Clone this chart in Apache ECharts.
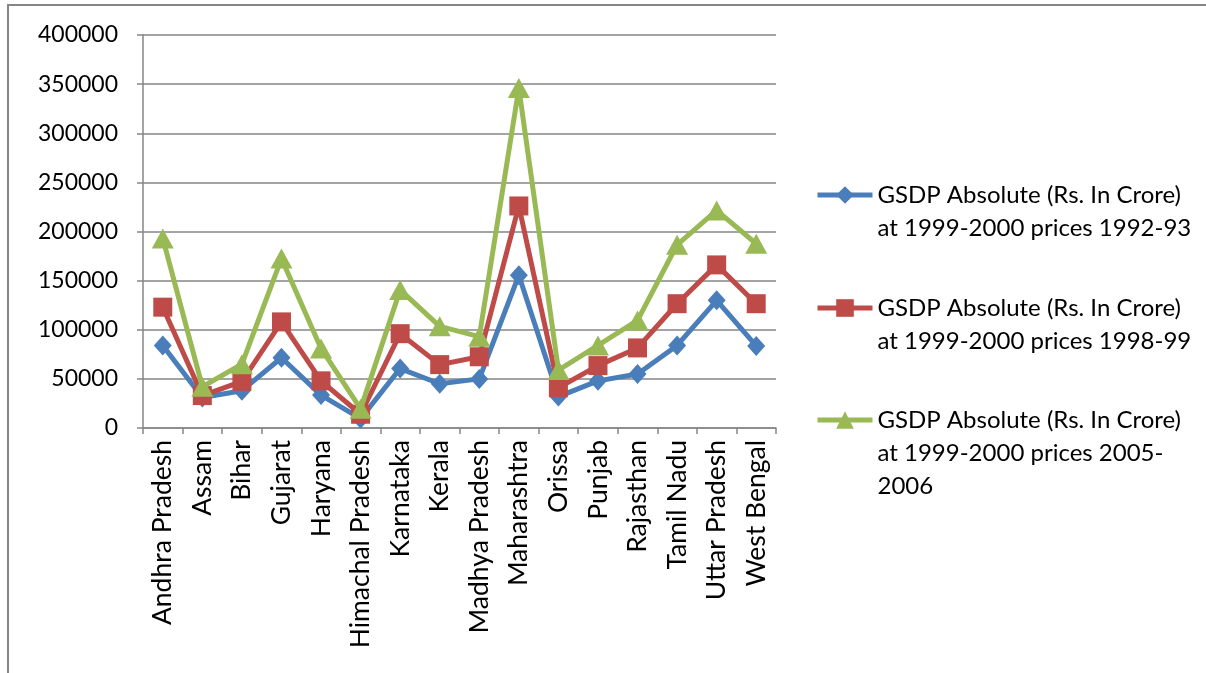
<!DOCTYPE html>
<html>
<head>
<meta charset="utf-8">
<script src="https://cdn.jsdelivr.net/npm/echarts@6/dist/echarts.min.js"></script>
<style>
  html, body { margin: 0; padding: 0; background: #ffffff; }
  #chart { width: 1206px; height: 673px; }
</style>
</head>
<body>
<div id="chart"></div>
<script>
// States on the category axis
const states = [
  'Andhra Pradesh', 'Assam', 'Bihar', 'Gujarat', 'Haryana', 'Himachal Pradesh',
  'Karnataka', 'Kerala', 'Madhya Pradesh', 'Maharashtra', 'Orissa', 'Punjab',
  'Rajasthan', 'Tamil Nadu', 'Uttar Pradesh', 'West Bengal'
];

// GSDP (Rs. crore, 1999-2000 prices)
const gsdp1992 = [84000, 31000, 38000, 71500, 33500, 9500, 60500, 45000, 50000, 155500, 32000, 48000, 55000, 84000, 130000, 83500];
const gsdp1998 = [123000, 33000, 47500, 108000, 48000, 14000, 96000, 64500, 72500, 226000, 41000, 63500, 81500, 126500, 166000, 126500];
const gsdp2005 = [193000, 42000, 65000, 172500, 81000, 19500, 140500, 103500, 93000, 346000, 59000, 84000, 109500, 186500, 221500, 187500];

const seriesNames = [
  'GSDP Absolute (Rs. In Crore)\nat 1999-2000 prices 1992-93',
  'GSDP Absolute (Rs. In Crore)\nat 1999-2000 prices 1998-99',
  'GSDP Absolute (Rs. In Crore)\nat 1999-2000 prices 2005-\n2006'
];

const yTicks = { min: 0, max: 400000, step: 50000 };

const FONT = 'Lato';
const AXIS_GREY = '#868686';
const colors = ['#4a7ebb', '#be4b48', '#98b954'];
const symbols = ['diamond', 'rect', 'triangle'];
const symbolSizes = [[18, 20], 19, [22, 20]];

const chart = echarts.init(document.getElementById('chart'), null, { renderer: 'canvas' });

const LINE_H = 33;
// One legend block per series; blank leading lines keep the key level with the first text line
function legendFor(i, iconY) {
  const lines = seriesNames[i].split('\n').length;
  const total = 2 * lines - 1;
  return {
    show: true,
    orient: 'vertical',
    left: 815,
    top: iconY - (total * LINE_H) / 2,
    padding: 0,
    itemWidth: 55,
    itemHeight: 22,
    itemGap: 0,
    data: [seriesNames[i]],
    lineStyle: { width: 5 },
    formatter: (name) => '\n'.repeat(lines - 1) + name,
    textStyle: {
      fontFamily: FONT,
      fontSize: 24,
      color: '#000000',
      lineHeight: LINE_H
    }
  };
}

const option = {
  backgroundColor: '#ffffff',
  animation: false,
  textStyle: { fontFamily: FONT },
  graphic: [{
    type: 'rect',
    shape: { x: 8, y: 5, width: 1300, height: 800 },
    style: { fill: null, stroke: AXIS_GREY, lineWidth: 2 },
    silent: true
  }],
  legend: [legendFor(0, 195), legendFor(1, 308), legendFor(2, 420)],
  grid: { left: 143, right: 430, top: 35, bottom: 245, containLabel: false },
  xAxis: {
    type: 'category',
    data: states,
    boundaryGap: true,
    axisLine: { lineStyle: { color: AXIS_GREY, width: 1.5 } },
    axisTick: { show: true, length: 6, alignWithLabel: false, lineStyle: { color: AXIS_GREY, width: 1.5 } },
    axisLabel: {
      rotate: 90,
      margin: 12,
      interval: 0,
      color: '#000000',
      fontFamily: FONT,
      fontSize: 26.5
    },
    splitLine: { show: false }
  },
  yAxis: {
    type: 'value',
    min: yTicks.min,
    max: yTicks.max,
    interval: yTicks.step,
    axisLine: { show: true, lineStyle: { color: AXIS_GREY, width: 1.5 } },
    axisTick: { show: true, length: 6, lineStyle: { color: AXIS_GREY, width: 1.5 } },
    axisLabel: {
      margin: 25,
      color: '#000000',
      fontFamily: FONT,
      fontSize: 23,
      formatter: (v) => String(v)
    },
    splitLine: { show: true, lineStyle: { color: AXIS_GREY, width: 1.5 } }
  },
  series: [gsdp1992, gsdp1998, gsdp2005].map((d, i) => ({
    name: seriesNames[i],
    type: 'line',
    data: d,
    symbol: symbols[i],
    symbolSize: symbolSizes[i],
    showAllSymbol: true,
    lineStyle: { color: colors[i], width: 5 },
    itemStyle: { color: colors[i], borderWidth: 0 },
    z: 2 + i
  }))
};

chart.setOption(option);
</script>
</body>
</html>
